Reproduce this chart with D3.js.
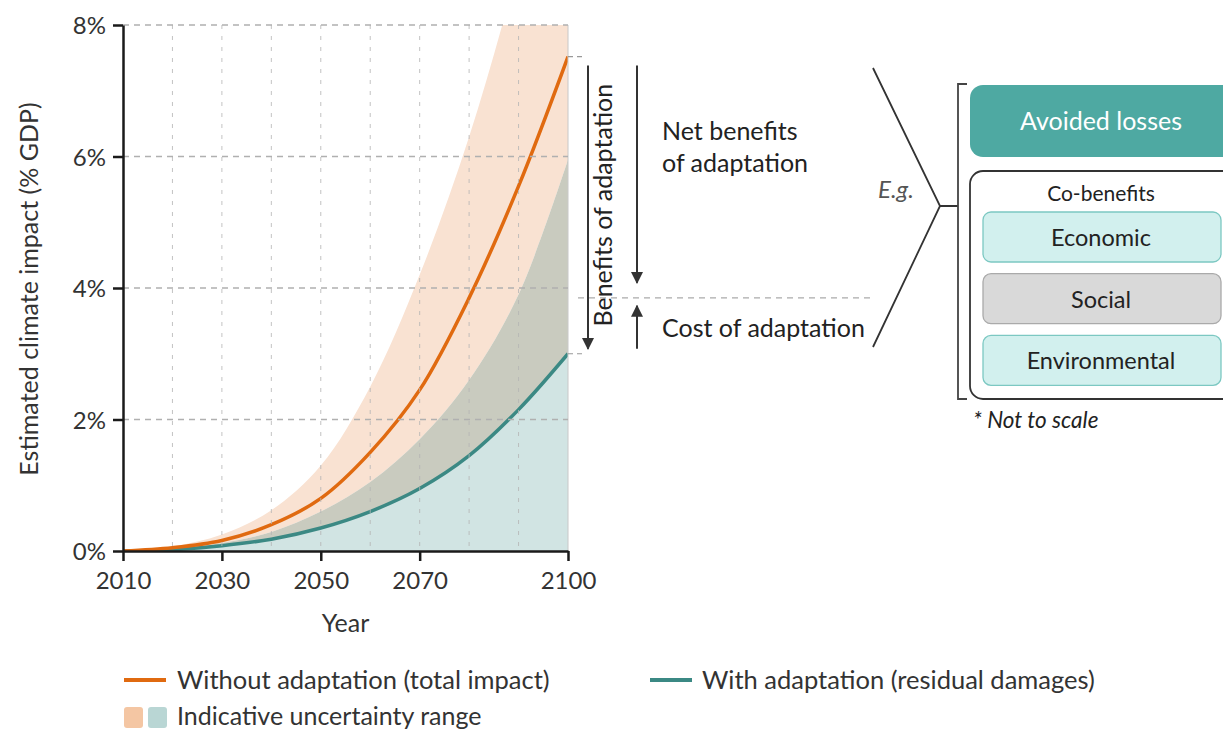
<!DOCTYPE html>
<html>
<head>
<meta charset="utf-8">
<script src="https://cdn.jsdelivr.net/npm/d3@7"></script>
<style>
  html, body { margin: 0; padding: 0; background: #fff; }
  svg { display: block; font-family: Lato, "Open Sans", sans-serif; }
</style>
</head>
<body>
<svg id="chart" width="1223" height="731"></svg>
<script>
// ---------- data ----------
const years = [2010, 2020, 2030, 2040, 2050, 2060, 2070, 2080, 2090, 2100];
const withoutAdaptation = [0, 0.05, 0.16, 0.4, 0.8, 1.5, 2.45, 3.85, 5.55, 7.52];
const withAdaptation    = [0, 0.02, 0.08, 0.18, 0.35, 0.6, 0.95, 1.45, 2.15, 3.0];
const withoutUpper      = [0, 0.07, 0.25, 0.62, 1.3, 2.5, 4.2, 6.3, 8.9, 11.8];
const withUpper         = [0, 0.03, 0.12, 0.29, 0.6, 1.05, 1.7, 2.6, 3.9, 5.95];
const xTicks = [2010, 2030, 2050, 2070, 2100];
const xGrid = [2020, 2030, 2040, 2050, 2060, 2070, 2080, 2090];
const yTicks = [0, 2, 4, 6, 8];
const costLevel = 3.85;
const legendItems = ["Without adaptation (total impact)", "With adaptation (residual damages)", "Indicative uncertainty range"];
const coBenefits = ["Economic", "Social", "Environmental"];

const C = {
  orange: "#e06a10", teal: "#3b8984",
  bandOrange: "#f9e2d2", bandGrey: "#c9cbbf", bandTeal: "#d1e4e3",
  text: "#333"
};

const svg = d3.select("#chart");
const x = d3.scaleLinear().domain([2010, 2100]).range([123, 568]);
const y = d3.scaleLinear().domain([0, 8]).range([551, 25]);

const rows = years.map((yr, i) => ({
  yr, wo: withoutAdaptation[i], w: withAdaptation[i], woU: withoutUpper[i], wU: withUpper[i]
}));

svg.append("defs").append("clipPath").attr("id", "plotclip")
  .append("rect").attr("x", x(2010)).attr("y", y(8))
  .attr("width", x(2100) - x(2010)).attr("height", y(0) - y(8));

const curve = d3.curveCatmullRom.alpha(0.5);
const plot = svg.append("g").attr("clip-path", "url(#plotclip)");

// bands
plot.append("path").datum(rows)
  .attr("d", d3.area().curve(curve).x(d => x(d.yr)).y0(d => y(d.wU)).y1(d => y(d.woU)))
  .attr("fill", C.bandOrange);
plot.append("path").datum(rows)
  .attr("d", d3.area().curve(curve).x(d => x(d.yr)).y0(d => y(d.w)).y1(d => y(d.wU)))
  .attr("fill", C.bandGrey);
plot.append("path").datum(rows)
  .attr("d", d3.area().curve(curve).x(d => x(d.yr)).y0(y(0)).y1(d => y(d.w)))
  .attr("fill", C.bandTeal);

// right edge of band
svg.append("line").attr("x1", x(2100)).attr("x2", x(2100)).attr("y1", y(8)).attr("y2", y(0))
  .attr("stroke", "#c8c8c8").attr("stroke-width", 1);

// gridlines
svg.append("g").selectAll("line").data(xGrid).join("line")
  .attr("x1", d => x(d)).attr("x2", d => x(d)).attr("y1", y(8)).attr("y2", y(0))
  .attr("stroke", "#b5b5b5").attr("stroke-width", 1).attr("stroke-dasharray", "4,7").attr("opacity", 0.8);
svg.append("g").selectAll("line").data(yTicks.filter(d => d > 0)).join("line")
  .attr("x1", x(2010)).attr("x2", x(2100)).attr("y1", d => y(d)).attr("y2", d => y(d))
  .attr("stroke", "#b0b0b0").attr("stroke-width", 1.3).attr("stroke-dasharray", "6,5");

// lines
plot.append("path").datum(rows)
  .attr("d", d3.line().curve(curve).x(d => x(d.yr)).y(d => y(d.w)))
  .attr("fill", "none").attr("stroke", C.teal).attr("stroke-width", 3.5);
plot.append("path").datum(rows)
  .attr("d", d3.line().curve(curve).x(d => x(d.yr)).y(d => y(d.wo)))
  .attr("fill", "none").attr("stroke", C.orange).attr("stroke-width", 3.5);

// axes
const yAxis = svg.append("g").attr("transform", `translate(${x(2010)},0)`)
  .call(d3.axisLeft(y).tickValues(yTicks).tickFormat(d => d + "%").tickSize(10).tickSizeOuter(0).tickPadding(7));
const xAxis = svg.append("g").attr("transform", `translate(0,${y(0)})`)
  .call(d3.axisBottom(x).tickValues(xTicks).tickFormat(d3.format("d")).tickSize(10).tickSizeOuter(0).tickPadding(11));
[yAxis, xAxis].forEach(g => {
  g.select(".domain").attr("stroke", "#1a1a1a").attr("stroke-width", 2.5);
  g.selectAll(".tick line").attr("stroke", "#1a1a1a").attr("stroke-width", 2.5);
  g.selectAll(".tick text").attr("fill", C.text).style("font-size", "24px").style("font-family", "Lato");
});
yAxis.selectAll(".tick text").attr("dy", "0.36em");

svg.append("text").attr("transform", `translate(38,${(y(0) + y(8)) / 2 + 1}) rotate(-90)`)
  .attr("text-anchor", "middle").attr("fill", C.text).style("font-size", "25px").text("Estimated climate impact (% GDP)");
svg.append("text").attr("x", (x(2010) + x(2100)) / 2).attr("y", 632)
  .attr("text-anchor", "middle").attr("fill", C.text).style("font-size", "25px").text("Year");

// end markers
const endW = withoutAdaptation[withoutAdaptation.length - 1];
const endA = withAdaptation[withAdaptation.length - 1];
[endW, endA].forEach(v => {
  svg.append("line").attr("x1", x(2100)).attr("x2", x(2100) + 15).attr("y1", y(v)).attr("y2", y(v))
    .attr("stroke", "#999").attr("stroke-width", 1.2).attr("stroke-dasharray", "5,4");
});

// arrowheads
const defs = svg.select("defs");
defs.append("marker").attr("id", "arr").attr("viewBox", "0 0 10 10").attr("refX", 9).attr("refY", 5)
  .attr("markerWidth", 12).attr("markerHeight", 12).attr("markerUnits", "userSpaceOnUse")
  .attr("orient", "auto")
  .append("path").attr("d", "M0,0 L10,5 L0,10 Z").attr("fill", "#333");

const arrow = (x0, y0, x1, y1) => svg.append("line")
  .attr("x1", x0).attr("y1", y0).attr("x2", x1).attr("y2", y1)
  .attr("stroke", "#333").attr("stroke-width", 2).attr("marker-end", "url(#arr)");

arrow(588, y(endW) + 9, 588, y(endA) - 5);
svg.append("text").attr("transform", `translate(612,${(y(endW) + y(endA)) / 2}) rotate(-90)`)
  .attr("text-anchor", "middle").attr("fill", "#222").style("font-size", "25px").text("Benefits of adaptation");

arrow(637, y(endW) + 9, 637, y(costLevel) - 15);
arrow(637, y(endA) - 5, 637, y(costLevel) + 8);
svg.append("line").attr("x1", 578).attr("x2", 873).attr("y1", y(costLevel)).attr("y2", y(costLevel))
  .attr("stroke", "#aaa").attr("stroke-width", 1.2).attr("stroke-dasharray", "6,5");

svg.append("text").attr("x", 662).attr("y", 140).attr("fill", "#222").style("font-size", "25px").text("Net benefits");
svg.append("text").attr("x", 662).attr("y", 172).attr("fill", "#222").style("font-size", "25px").text("of adaptation");
svg.append("text").attr("x", 662).attr("y", 337).attr("fill", "#222").style("font-size", "25px").text("Cost of adaptation");

// chevron + bracket
svg.append("path").attr("d", "M873,68 L940,206 L873,347 M940,206 L958,206")
  .attr("fill", "none").attr("stroke", "#333").attr("stroke-width", 1.8);
svg.append("path").attr("d", "M967,84 L958,84 L958,399 L967,399")
  .attr("fill", "none").attr("stroke", "#444").attr("stroke-width", 1.8);
svg.append("text").attr("x", 878).attr("y", 198).attr("fill", "#555").style("font-size", "24px")
  .style("font-style", "italic").text("E.g.");

// boxes
svg.append("rect").attr("x", 970).attr("y", 85).attr("width", 270).attr("height", 72).attr("rx", 13)
  .attr("fill", "#4ea9a2");
svg.append("text").attr("x", 1101).attr("y", 130).attr("text-anchor", "middle").attr("fill", "#fff")
  .style("font-size", "25px").text("Avoided losses");

svg.append("rect").attr("x", 970).attr("y", 171).attr("width", 270).attr("height", 228).attr("rx", 13)
  .attr("fill", "#fff").attr("stroke", "#333").attr("stroke-width", 1.8);
svg.append("text").attr("x", 1101).attr("y", 201).attr("text-anchor", "middle").attr("fill", "#222")
  .style("font-size", "21px").text("Co-benefits");

const boxFill = ["#d2f0ee", "#d9d9d9", "#d2f0ee"];
const boxStroke = ["#7cc8c2", "#aaaaaa", "#7cc8c2"];
coBenefits.forEach((t, i) => {
  const by = 212 + i * 61.7;
  svg.append("rect").attr("x", 983).attr("y", by).attr("width", 238).attr("height", 50).attr("rx", 8)
    .attr("fill", boxFill[i]).attr("stroke", boxStroke[i]).attr("stroke-width", 1.3);
  svg.append("text").attr("x", 1101).attr("y", by + 34).attr("text-anchor", "middle").attr("fill", "#222")
    .style("font-size", "23.5px").text(t);
});
svg.append("text").attr("x", 973).attr("y", 428).attr("fill", "#222").style("font-size", "22.5px")
  .style("font-style", "italic").text("* Not to scale");

// legend
const lg = svg.append("g");
lg.append("line").attr("x1", 124).attr("x2", 166).attr("y1", 680).attr("y2", 680).attr("stroke", C.orange).attr("stroke-width", 4);
lg.append("text").attr("x", 177).attr("y", 689).attr("fill", C.text).style("font-size", "25.5px").text(legendItems[0]);
lg.append("line").attr("x1", 650).attr("x2", 692).attr("y1", 680).attr("y2", 680).attr("stroke", C.teal).attr("stroke-width", 4);
lg.append("text").attr("x", 702).attr("y", 689).attr("fill", C.text).style("font-size", "25.5px").text(legendItems[1]);
lg.append("rect").attr("x", 124).attr("y", 707).attr("width", 19).attr("height", 21).attr("rx", 3).attr("fill", "#f4c6a3");
lg.append("rect").attr("x", 148).attr("y", 707).attr("width", 19).attr("height", 21).attr("rx", 3).attr("fill", "#b9d6d4");
lg.append("text").attr("x", 177).attr("y", 725).attr("fill", C.text).style("font-size", "25px").text(legendItems[2]);
</script>
</body>
</html>
